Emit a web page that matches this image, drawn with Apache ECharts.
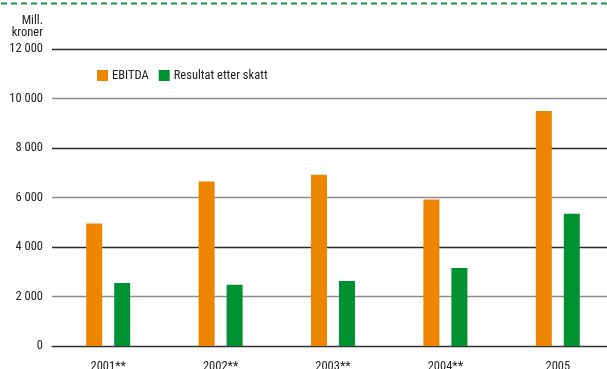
<!DOCTYPE html>
<html>
<head>
<meta charset="utf-8">
<script src="https://cdn.jsdelivr.net/npm/echarts@6/dist/echarts.min.js"></script>
<style>
  html, body { margin: 0; padding: 0; background: #fff; overflow: hidden; width: 607px; height: 369px; }
  /* plot area runs a little past the right edge of the page */
  #chart { width: 614px; height: 369px; }
</style>
</head>
<body>
<div id="chart"></div>
<script>
// Years (** marks restated figures)
const categories = ['2001**', '2002**', '2003**', '2004**', '2005'];
// Million NOK
const ebitda = [4950, 6650, 6920, 5920, 9500];
const resultatEtterSkatt = [2550, 2470, 2630, 3150, 5340];
const yTicks = [0, 2000, 4000, 6000, 8000, 10000, 12000];

const FONT = '"Roboto Condensed", "Liberation Sans", Arial, sans-serif';
const fmt = v => {
  const s = String(v);
  return s.length > 3 ? s.slice(0, s.length - 3) + ' ' + s.slice(-3) : s;
};

const chart = echarts.init(document.getElementById('chart'), null, { renderer: 'canvas' });

chart.setOption({
  animation: false,
  backgroundColor: '#fff',
  textStyle: { fontFamily: FONT },
  grid: { left: 52, top: 49, right: 0, height: 297, outerBoundsMode: 'none', containLabel: false },
  legend: {
    left: 97, top: 69, padding: 0,
    itemWidth: 11, itemHeight: 11, itemGap: 10,
    icon: 'rect',
    textStyle: { fontFamily: FONT, fontSize: 12.5, color: '#222', padding: [0, 0, 0, -1] },
    data: ['EBITDA', 'Resultat etter skatt']
  },
  xAxis: {
    type: 'category',
    data: categories,
    axisLine: { show: true, lineStyle: { color: '#333', width: 1 } },
    axisTick: { show: false },
    axisLabel: { color: '#222', fontSize: 12.5, fontFamily: FONT, margin: 14 }
  },
  yAxis: {
    type: 'value',
    min: yTicks[0],
    max: yTicks[yTicks.length - 1],
    interval: 2000,
    axisLine: { show: false },
    axisTick: { show: false },
    axisLabel: { color: '#222', fontSize: 12.5, fontFamily: FONT, margin: 9, formatter: fmt },
    splitLine: { show: true, lineStyle: { color: ['#2a2a2a', '#8c8c8c'], width: 1.4 } }
  },
  graphic: [
    {
      type: 'line',
      shape: { x1: 1, y1: 3.5, x2: 614, y2: 3.5 },
      style: { stroke: '#13963a', lineWidth: 2.2, lineDash: [6, 4] }
    },
    {
      type: 'text',
      x: 43, y: 15,
      style: {
        text: 'Mill.\nkroner',
        align: 'right',
        verticalAlign: 'top',
        fill: '#222',
        font: '12.5px ' + FONT,
        lineHeight: 12
      }
    }
  ],
  series: [
    {
      name: 'EBITDA',
      type: 'bar',
      data: ebitda,
      barWidth: 16,
      barGap: '75%',
      itemStyle: { color: '#EE8500' }
    },
    {
      name: 'Resultat etter skatt',
      type: 'bar',
      data: resultatEtterSkatt,
      barWidth: 16,
      itemStyle: { color: '#009232' }
    }
  ]
});
</script>
</body>
</html>
